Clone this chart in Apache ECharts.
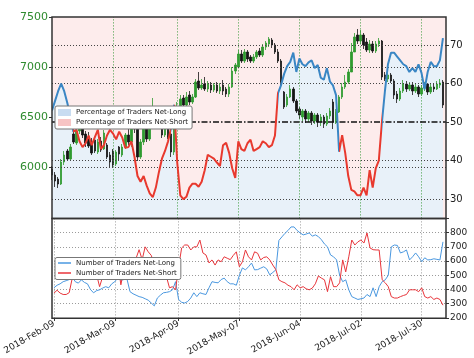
<!DOCTYPE html>
<html><head><meta charset="utf-8">
<script src="https://cdn.jsdelivr.net/npm/echarts@6/dist/echarts.min.js"></script>
<style>html,body{margin:0;padding:0;background:#fff}#c{width:474px;height:358px}</style>
</head><body><div id="c"></div>
<script>
// ---- categories: trading days (weekdays) from 2018-02-09 ----
const MONTHS = ['Jan','Feb','Mar','Apr','May','Jun','Jul','Aug','Sep','Oct','Nov','Dec'];
const categories = [];
(function(){ const d = new Date(Date.UTC(2018,1,9));
  while (categories.length < 130) { const w = d.getUTCDay();
    if (w !== 0 && w !== 6) categories.push(d.getUTCFullYear()+'-'+MONTHS[d.getUTCMonth()]+'-'+String(d.getUTCDate()).padStart(2,'0'));
    d.setUTCDate(d.getUTCDate()+1); } })();

const dateTicks = ['2018-Feb-09','2018-Mar-09','2018-Apr-09','2018-May-07','2018-Jun-04','2018-Jul-02','2018-Jul-30'];
const priceTicks = [6000, 6500, 7000, 7500];
const priceGrid = [6000, 7000];
const pctTicks = [30, 40, 50, 60, 70];
const pctGrid = [30, 40, 60, 70];
const pctMid = 50;

// price candles: [open, close, low, high]
const candles = [
[5980,5920,5870,6010],[5920,5860,5800,5950],[5880,5830,5790,5900],[5830,6050,5820,6080],[6050,6120,6020,6160],
[6160,6080,6060,6180],[6080,6200,6070,6230],[6330,6250,6230,6400],[6240,6360,6220,6390],[6360,6420,6330,6470],
[6440,6320,6290,6460],[6330,6240,6200,6360],[6300,6210,6190,6350],[6250,6140,6120,6290],[6270,6160,6140,6280],
[6150,6250,6130,6280],[6260,6170,6150,6300],[6180,6340,6170,6370],[6220,6100,6080,6240],[6120,6050,6000,6150],
[6160,6020,5990,6180],[6030,6150,6010,6170],[6200,6130,6070,6210],[6120,6200,6100,6230],[6200,6320,6180,6340],
[6320,6250,6220,6380],[6250,6450,6200,6470],[6450,6380,6340,6500],[6420,6100,6060,6450],[6100,6250,6080,6280],
[6250,6380,6220,6410],[6380,6280,6250,6420],[6280,6450,6260,6500],[6450,6560,6430,6690],[6560,6480,6450,6600],
[6480,6400,6380,6520],[6420,6320,6290,6450],[6320,6400,6300,6430],[6400,6300,6280,6420],[6330,6150,6100,6490],
[6150,6400,6120,6420],[6450,6600,6420,6650],[6600,6680,6580,6720],[6690,6620,6600,6720],[6620,6700,6600,6750],
[6720,6650,6620,6760],[6650,6700,6630,6730],[6700,6850,6690,6880],[6860,6790,6770,6950],[6790,6820,6770,6880],
[6830,6780,6760,6900],[6780,6830,6750,6860],[6820,6770,6740,6850],[6770,6820,6750,6840],[6820,6760,6740,6850],
[6760,6800,6730,6840],[6820,6760,6720,6870],[6780,6730,6700,6800],[6730,6800,6700,6830],[6800,6960,6790,7000],
[6960,7020,6930,7040],[7000,7130,6990,7170],[7130,7060,7040,7170],[7060,7150,7040,7180],[7150,7080,7050,7170],
[7100,7060,7040,7120],[7060,7100,7040,7130],[7100,7150,7080,7170],[7160,7120,7100,7190],[7120,7200,7100,7230],
[7200,7240,7170,7260],[7230,7280,7200,7300],[7270,7220,7190,7290],[7220,7150,7130,7240],[7150,7060,7040,7180],
[7060,6850,6820,7080],[6750,6600,6580,6760],[6620,6700,6600,6730],[6700,6780,6690,6820],[6780,6660,6640,6800],
[6660,6560,6540,6680],[6580,6520,6480,6600],[6500,6560,6460,6580],[6560,6480,6440,6580],[6480,6540,6450,6560],
[6540,6460,6420,6560],[6460,6520,6430,6540],[6520,6450,6400,6540],[6450,6500,6410,6530],[6500,6430,6390,6520],
[6430,6510,6410,6540],[6510,6560,6480,6590],[6650,6450,6380,6680],[6450,6550,6430,6580],[6550,6700,6540,6720],
[6700,6800,6680,6840],[6800,6850,6780,6920],[6850,6950,6830,6980],[6950,7150,6950,7240],[7150,7300,7150,7340],
[7320,7260,7230,7380],[7260,7320,7230,7370],[7320,7220,7180,7340],[7250,7170,7150,7290],[7170,7230,7140,7270],
[7230,7160,7140,7260],[7160,7230,7140,7260],[7230,7260,7200,7290],[7260,6900,6870,7270],[6920,6880,6860,6950],
[6880,6920,6850,6950],[6920,6860,6840,6940],[6860,6720,6680,6880],[6730,6680,6640,6760],[6680,6760,6660,6790],
[6760,6830,6740,6870],[6830,6780,6750,6860],[6780,6820,6760,6850],[6820,6760,6720,6850],[6760,6800,6740,6830],
[6800,6730,6700,6820],[6730,6790,6710,6820],[6790,6830,6760,6850],[6830,6750,6720,6840],[6750,6800,6730,6830],
[6800,6780,6750,6840],[6780,6830,6770,6860],[6820,6840,6790,6880],[6850,6620,6590,6870],'-'
];

// percentage of traders net-long
const pctLong = [
53,55.5,58,60,58,55,51.5,47.5,48,45,
43.5,44.5,46.5,44,46,48,43,44,46.5,48,
47,45.5,47.5,46,43.3,43.5,45,41,36,34.5,
36,33.5,31.5,30.5,33,37,40.5,42.5,45,48.5,
54.5,39.5,31,30,30.6,33,34,34,33.2,34.5,
37.5,41.5,41,40.5,39.5,38.6,44,44.6,42,38,
35.5,45,43,42.5,44.5,45.4,42.5,43,43.5,45,
44.5,43.5,44,46.5,57.5,59.6,62.5,64.5,65.6,68,
63,66.5,65,64.5,65.5,66,64,64.8,61.5,61,
64,60.5,59.5,57,42.3,46.6,42,36,32.4,32,
31,31,33,31,37.5,33,38,40,49.8,58,
65,68,68,67,66,65,64.5,63,64,63,
65,62.7,58.5,63,65.6,64.5,64.5,66,71.8,null
];
// index ranges where the line is drawn as net-long majority (blue)
const longSegments = [[0, 6.5], [39.3, 40.35], [74, 94], [108, 130]];

// number of traders
const longCount = [
413,430,440,455,462,470,490,455,445,468,
450,440,400,377,392,398,410,420,412,440,
455,482,465,470,475,385,370,360,350,345,
335,325,305,285,340,360,377,380,385,398,
455,330,310,305,316,340,377,350,377,370,
365,412,455,450,447,470,480,455,440,440,
430,500,552,538,560,586,538,540,550,560,
545,503,520,538,745,770,795,815,840,840,
815,798,784,790,798,775,784,772,750,720,
700,643,630,608,500,455,468,398,350,340,
330,335,340,365,350,412,350,420,455,468,
500,700,713,710,657,665,678,608,630,657,
630,595,623,608,610,616,612,608,735,null
];
const shortCount = [
375,395,375,365,365,378,480,600,560,518,
535,550,470,480,505,420,490,540,530,518,
570,585,433,540,530,540,585,620,680,610,
700,665,640,572,590,580,540,490,412,420,
398,560,692,713,713,678,700,700,748,657,
643,587,608,572,608,595,630,620,610,640,
665,560,595,678,630,608,665,655,608,625,
630,608,572,540,468,455,447,430,420,398,
433,412,420,405,398,410,440,495,480,468,
385,490,420,420,447,608,524,630,748,713,
735,748,727,798,692,680,678,678,468,447,
420,350,340,340,350,358,365,398,398,398,
385,412,350,340,350,330,340,330,290,null
];

// ---- styles ----
const BLUE = '#3a86c4', RED = '#e8392e';
const G0 = {left:52, top:17, width:394, height:201.4};
const G1 = {left:52, top:218.4, width:394, height:99.9};
const tickSet = new Set(dateTicks.map(t => categories.indexOf(t)));
const isTick = (i) => tickSet.has(i);

const pieces = [];
let prev = 0;
longSegments.forEach(([a,b]) => {
  if (a > prev) pieces.push({gte: prev, lt: a, color: RED});
  pieces.push({gte: a, lt: b, color: BLUE});
  prev = b;
});

const dotted = [1, 2];
const chart = echarts.init(document.getElementById('c'), null, {renderer:'canvas'});
chart.setOption({
  animation: false,
  textStyle: {fontFamily: 'DejaVu Sans'},
  grid: [
    Object.assign({show:true, backgroundColor:'#fdecec', borderWidth:0}, G0),
    Object.assign({show:true, backgroundColor:'#ffffff', borderWidth:0}, G1)
  ],
  xAxis: [
    {type:'category', gridIndex:0, data:categories, boundaryGap:false,
     axisLine:{show:false}, axisTick:{show:false}, axisLabel:{show:false}, splitLine:{show:false}},
    {type:'category', gridIndex:1, data:categories, boundaryGap:false,
     axisLine:{show:false},
     axisTick:{show:true, interval:isTick, length:3, lineStyle:{color:'#333'}},
     axisLabel:{show:true, interval:isTick, rotate:30, fontSize:9, color:'#222', margin:5},
     splitLine:{show:true, interval:isTick, lineStyle:{color:'#9a9a9a', type:dotted, width:1}}}
  ],
  yAxis: [
    {type:'value', gridIndex:0, position:'left', min:5486, max:7500, scale:true,
     axisLine:{show:false},
     axisTick:{show:true, customValues:priceTicks, length:3, lineStyle:{color:'#333'}},
     axisLabel:{customValues:priceTicks, color:'#2e8b2e', fontSize:11, margin:4, formatter:(v)=>String(v)},
     splitLine:{show:false}},
    {type:'value', gridIndex:0, position:'right', min:25, max:77.26, scale:true,
     axisLine:{show:false},
     axisTick:{show:true, customValues:pctTicks, length:3, lineStyle:{color:'#333'}},
     axisLabel:{customValues:pctTicks, color:'#222', fontSize:10, margin:4, formatter:(v)=>String(v)},
     splitLine:{show:false}},
    {type:'value', gridIndex:1, position:'right', min:200, max:900, interval:100,
     axisLine:{show:false},
     axisTick:{show:true, length:3, lineStyle:{color:'#333'}},
     axisLabel:{color:'#222', fontSize:9, margin:4, formatter:(v)=> v===900 ? '' : String(v)},
     splitLine:{show:true, lineStyle:{color:'#9a9a9a', type:dotted, width:1}}}
  ],
  visualMap: {type:'piecewise', show:false, dimension:0, seriesIndex:3, pieces:pieces},
  legend: [
    {orient:'vertical', left:55, top:106, selectedMode:false, z:50,
     itemWidth:13, itemHeight:7, itemGap:2, padding:[2.5,4,2.5,3],
     backgroundColor:'#ffffff', borderColor:'#777', borderWidth:1, borderRadius:2,
     textStyle:{fontSize:7, color:'#222', lineHeight:8},
     data:[{name:'Percentage of Traders Net-Long', icon:'rect', itemStyle:{color:'#c8dcf1'}},
           {name:'Percentage of Traders Net-Short', icon:'rect', itemStyle:{color:'#f7c4c4'}}]},
    {orient:'vertical', left:55, top:257.5, selectedMode:false, z:50,
     itemWidth:13, itemHeight:1.5, itemGap:2, padding:[1.5,4,2.5,3],
     backgroundColor:'#ffffff', borderColor:'#777', borderWidth:1, borderRadius:2,
     textStyle:{fontSize:7, color:'#222', lineHeight:8},
     data:[{name:'Number of Traders Net-Long', icon:'rect', itemStyle:{color:'#4a98e0'}},
           {name:'Number of Traders Net-Short', icon:'rect', itemStyle:{color:'#e8353b'}}]}
  ],
  graphic: [
    {type:'rect', z:100, silent:true, shape:{x:G0.left, y:G0.top, width:G0.width, height:G0.height},
     style:{fill:'none', stroke:'#333', lineWidth:1.5}},
    {type:'rect', z:100, silent:true, shape:{x:G1.left, y:G1.top, width:G1.width, height:G1.height},
     style:{fill:'none', stroke:'#333', lineWidth:1.5}}
  ],
  series: [
    {name:'Percentage of Traders Net-Long', type:'line', xAxisIndex:0, yAxisIndex:1, data:pctLong,
     symbol:'none', silent:true, z:1, lineStyle:{width:0}, itemStyle:{color:'#c8dcf1'},
     areaStyle:{color:'#e8f1f9', opacity:1, origin:'start'}},
    {name:'Percentage of Traders Net-Short', type:'line', xAxisIndex:0, yAxisIndex:1, data:[],
     symbol:'none', itemStyle:{color:'#f7c4c4'}},
    {name:'Price', type:'candlestick', xAxisIndex:0, yAxisIndex:0, data:candles, barWidth:2, z:3,
     itemStyle:{color:'#2f9a2f', color0:'#151515', borderColor:'#2f9a2f', borderColor0:'#151515', borderWidth:0.8},
     markLine:{silent:true, symbol:'none', label:{show:false},
       data: dateTicks.slice(1).map(t => ({xAxis:t, lineStyle:{color:'#3c9a3c', type:dotted, width:1}}))
         .concat(priceGrid.map(v => ({yAxis:v, lineStyle:{color:'#444', type:dotted, width:1}})))}},
    {name:'pctLine', type:'line', xAxisIndex:0, yAxisIndex:1, data:pctLong, symbol:'none', z:5,
     lineStyle:{width:2},
     markLine:{silent:true, symbol:'none', label:{show:false},
       data: pctGrid.map(v => ({yAxis:v, lineStyle:{color:'#444', type:dotted, width:1}}))
         .concat([{yAxis:pctMid, lineStyle:{color:'#111', type:[6,2,1.5,2], width:1.6}}])}},
    {name:'Number of Traders Net-Long', type:'line', xAxisIndex:1, yAxisIndex:2, data:longCount,
     symbol:'none', lineStyle:{width:1, color:'#4a98e0'}, itemStyle:{color:'#4a98e0'}},
    {name:'Number of Traders Net-Short', type:'line', xAxisIndex:1, yAxisIndex:2, data:shortCount,
     symbol:'none', lineStyle:{width:1, color:'#e8353b'}, itemStyle:{color:'#e8353b'}}
  ]
});
</script></body></html>
